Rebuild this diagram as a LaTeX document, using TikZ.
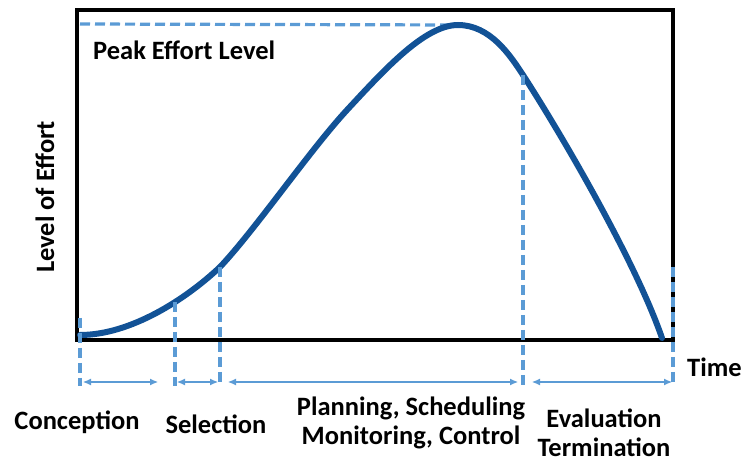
\documentclass[tikz,border=0pt]{standalone}
\usepackage{fontspec}
\setmainfont{Carlito}
\definecolor{curveblue}{RGB}{18,82,150}
\definecolor{guideblue}{RGB}{91,155,213}
\usetikzlibrary{arrows.meta}

\begin{document}
\begin{tikzpicture}[x=1pt, y=-1pt,
    guide/.style={guideblue, line width=3.2pt, dash pattern=on 10pt off 5pt},
    span/.style={guideblue, line width=1.1pt, {Latex[length=8pt,width=7pt]}-{Latex[length=8pt,width=7pt]}},
    lbl/.style={font=\fontsize{26.5}{30}\selectfont\bfseries, align=center, inner sep=0pt}]
    \useasboundingbox (0,0) rectangle (742,462);

    % Marco del grafico
    \draw[line width=3.2pt] (77,10) rectangle (673,340);

    % Nivel pico
    \coordinate (peak) at (458,25);
    \coordinate (topleft) at (80,24);
    \draw[guide] (topleft) -- (peak);

    % Curva de esfuerzo
    \draw[curveblue, line width=6pt, line cap=round]
        (80,335) .. controls (130,335) and (185,300) .. (220,267)
        .. controls (255,230) and (310,150) .. (347,110)
        .. controls (385,69) and (425,25) .. (peak)
        .. controls (490,25) and (510,55) .. (523,75)
        .. controls (560,132) and (635,260) .. (662,338);

    % Lineas guia verticales
    \foreach \x/\y/\name in {80/318/t0, 175/302/t1, 220/267/t2, 523/75/t3, 673/267/t4} {
        \draw[guide] (\x,\y) -- (\x,386);
        \coordinate (\name) at (\x,382);
    }

    % Flechas de cada fase
    \draw[span] ([xshift=3pt]t0) -- ([xshift=78pt]t0);
    \draw[span] ([xshift=2pt]t1) -- ([xshift=-2pt]t2);
    \draw[span] ([xshift=8pt]t2) -- ([xshift=-5pt]t3);
    \draw[span] ([xshift=9pt]t3) -- ([xshift=-1pt]t4);

    % Etiquetas
    \node[lbl] (conc) at (77,422) {Conception};
    \node[lbl] (sel) at (216,424) {Selection};
    \node[lbl] (plan) at (411,423) {Planning, Scheduling\\[-1pt]Monitoring, Control};
    \node[lbl] (eval) at (604,433) {Evaluation\\[-1pt]Termination};
    \node[lbl, anchor=west] (time) at (687,367) {Time};
    \node[lbl, anchor=west] (peaklbl) at (93,50) {Peak Effort Level};
    \node[lbl, rotate=90] (effort) at (45,197) {Level of Effort};
\end{tikzpicture}
\end{document}
